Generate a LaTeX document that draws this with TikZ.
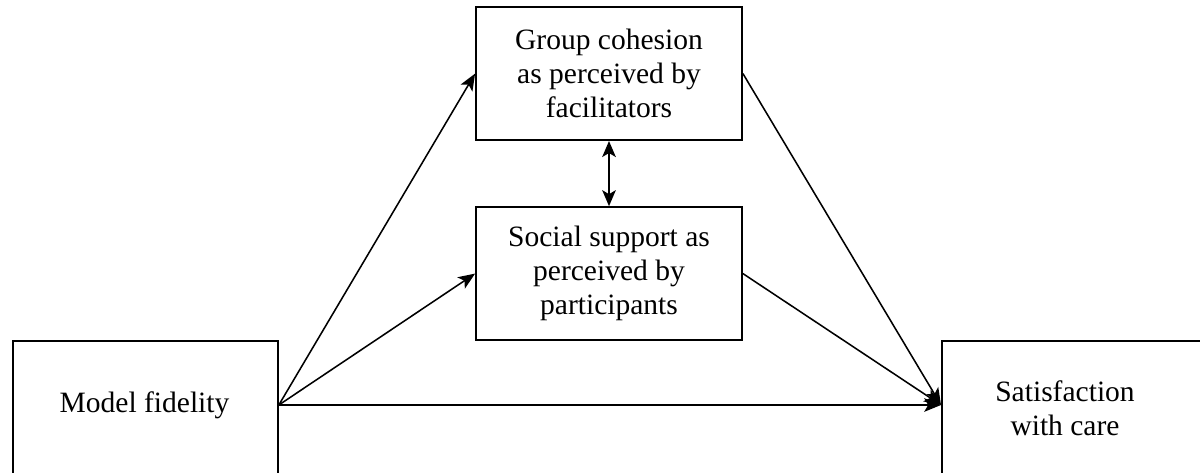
\documentclass[tikz,border=0pt]{standalone}
\usepackage{fontspec}
\setmainfont{Liberation Serif}
\usetikzlibrary{arrows.meta}

\tikzset{
	box/.style={draw, line width=1.3pt, align=center},
	link/.style={line width=1.1pt, -{Stealth[length=4.2mm,width=3.4mm,inset=1mm]}},
	twolink/.style={line width=1.3pt, {Stealth[length=4mm,width=3.4mm,inset=1mm]}-{Stealth[length=4mm,width=3.4mm,inset=1mm]}},
}

\begin{document}
\begin{tikzpicture}[font=\fontsize{21}{24.2}\selectfont]
	\path[use as bounding box, clip] (0,0) rectangle (30,11.8);

	\node[box, minimum width=6.625cm, minimum height=4cm, anchor=north west] (boxFid) at (0.3,3.3) {};
	\node[] (lblFid) at (3.6125,1.675) {Model fidelity};
	\coordinate (outFid) at (boxFid.east |- lblFid);

	\node[box, minimum width=8cm, minimum height=4cm, anchor=north west] (boxSat) at (23.525,3.3) {};
	\node[align=center] (lblSat) at (26.625,1.6) {Satisfaction\\with care};
	\coordinate (inSat) at (boxSat.west |- outFid);

	\node[box, minimum width=6.65cm, minimum height=3.325cm] (Cohesion) at (15.225,9.96) {Group cohesion\\as perceived by\\facilitators};
	\node[box, minimum width=6.65cm, minimum height=3.325cm] (Support) at (15.225,4.96) {Social support as\\perceived by\\participants};

	\draw[link] (outFid) -- (Cohesion.west);
	\draw[link] (outFid) -- (Support.west);
	\draw[link] (outFid) -- (inSat);
	\draw[link] (Cohesion.east) -- (inSat);
	\draw[link] (Support.east) -- (inSat);

	\draw[twolink] (Cohesion) -- (Support);
\end{tikzpicture}
\end{document}
